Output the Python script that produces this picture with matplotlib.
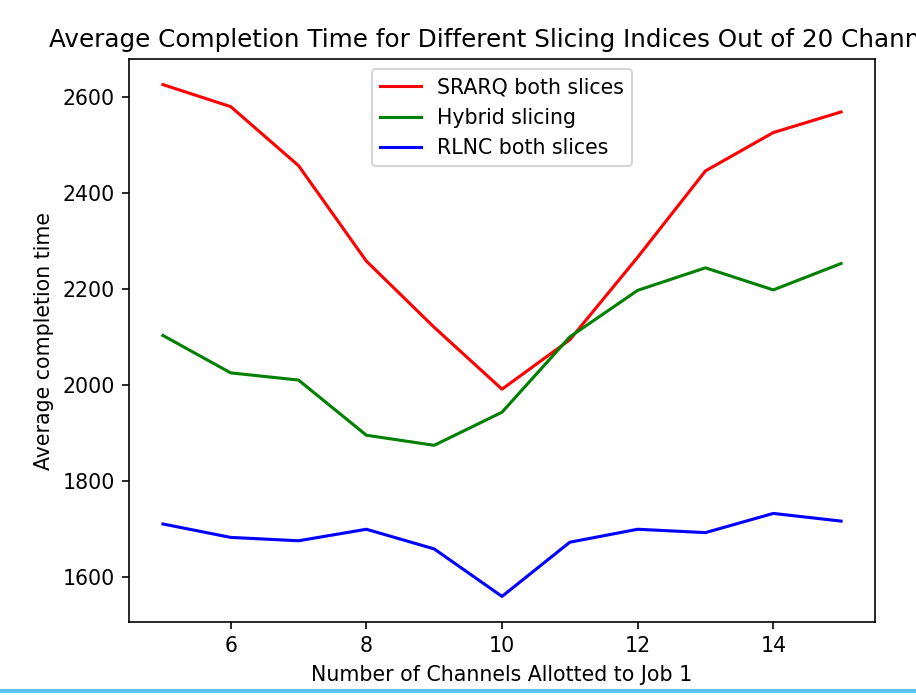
import matplotlib
matplotlib.use("Agg")
import matplotlib.pyplot as plt
from matplotlib.lines import Line2D

channels = [5, 6, 7, 8, 9, 10, 11, 12, 13, 14, 15]
sarq_both = [2626, 2580, 2457, 2258, 2120, 1991, 2094, 2266, 2446, 2526, 2569]
hybrid = [2103, 2025, 2010, 1895, 1874, 1943, 2100, 2197, 2244, 2198, 2253]
rlnc_both = [1710, 1682, 1675, 1699, 1658, 1559, 1672, 1699, 1692, 1732, 1716]

DPI = 148
fig = plt.figure(figsize=(916 / DPI, 695 / DPI), dpi=DPI)
ax = fig.add_axes([129 / 916, 1 - 622 / 695, 746 / 916, 563 / 695])

ax.plot(channels, sarq_both, color="red", label="SRARQ both slices")
ax.plot(channels, hybrid, color="green", label="Hybrid slicing")
ax.plot(channels, rlnc_both, color="blue", label="RLNC both slices")

ax.set_xlabel("Number of Channels Allotted to Job 1")
ax.set_ylabel("Average completion time")
ax.set_title("Average Completion Time for Different Slicing Indices Out of 20 Channels")
ax.legend(loc="upper center")

fig.add_artist(Line2D([0, 1], [1 - 691 / 695, 1 - 691 / 695], transform=fig.transFigure,
                      color="#5bc4f5", linewidth=2.0))

fig.savefig("out.png", dpi=DPI)
